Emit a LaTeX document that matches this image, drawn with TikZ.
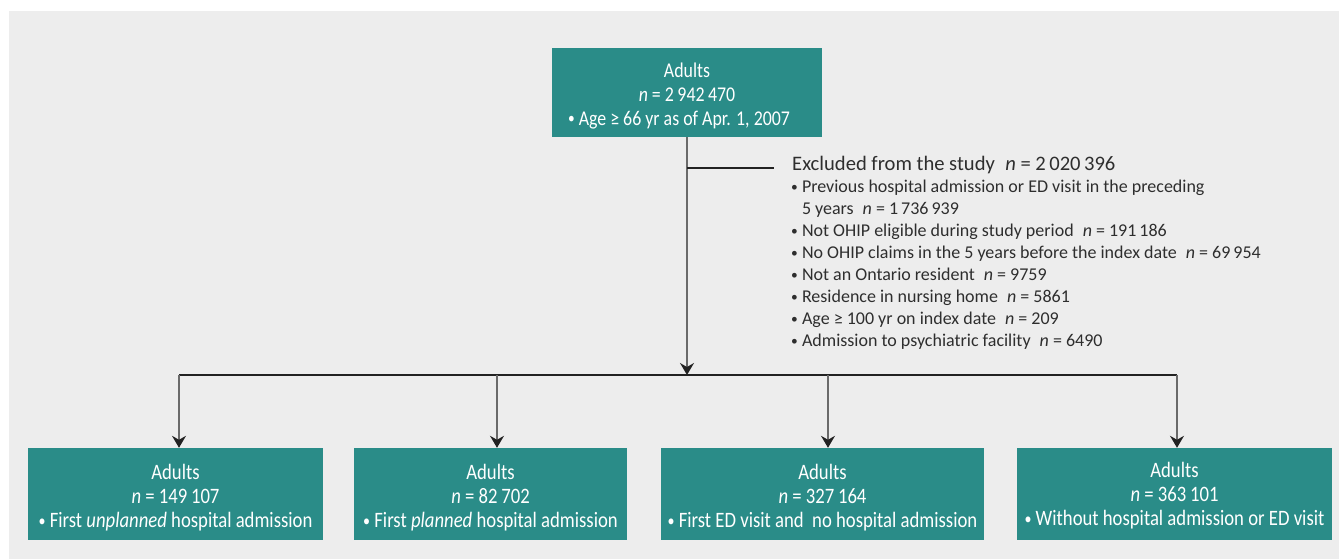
\documentclass[tikz,border=0pt]{standalone}
\usepackage{fontspec}
\usepackage{graphicx}
\setmainfont{Carlito}
\newfontfamily\boxfont[FakeStretch=0.85]{Carlito}
\usetikzlibrary{arrows.meta}
\definecolor{tealbox}{HTML}{2A8C88}
\definecolor{bgc}{HTML}{EDEDED}
\definecolor{vlinec}{HTML}{6A6A6A}
\definecolor{hlinec}{HTML}{222222}
\newcommand{\bul}{\raisebox{0.12ex}{\scalebox{0.75}{\textbullet}}}
\tikzset{
  tbox/.style={fill=tealbox, text=white, align=center, inner sep=0pt,
    font=\boxfont\fontsize{22}{24}\selectfont},
  arr/.style={draw=vlinec, line width=1.5pt,
    -{Stealth[length=12pt, width=14pt, inset=4pt, color=hlinec]}},
  hl/.style={draw=hlinec, line width=2.2pt},
  vl/.style={draw=vlinec, line width=1.5pt}
}
\begin{document}
\begin{tikzpicture}[x=1pt,y=-1pt]
\useasboundingbox (0,0) rectangle (1339,559);
\fill[bgc] (9,11) rectangle (1339,559);

\node[tbox, minimum width=270pt, minimum height=89pt, font=\boxfont\fontsize{21}{24}\selectfont] (top) at (687,92.5)
  {\rule{0pt}{21pt}Adults\\ \textit{n} = 2\,942\,470\\ \bul\ Age ≥ 66 yr as of Apr. 1, 2007\hspace*{16pt}};

\node[tbox, minimum width=295pt, minimum height=92pt] (b1) at (175.5,494)
  {\rule{0pt}{23pt}Adults\\ \textit{n} = 149\,107\\ \bul\ First \textit{unplanned} hospital admission};
\node[tbox, minimum width=273pt, minimum height=92pt] (b2) at (490.5,494)
  {\rule{0pt}{23pt}Adults\\ \textit{n} = 82\,702\\ \bul\ First \textit{planned} hospital admission};
\node[tbox, minimum width=323pt, minimum height=92pt] (b3) at (822.5,494)
  {\rule{0pt}{23pt}Adults\\ \textit{n} = 327\,164\\ \bul\ First ED visit and\ \ no hospital admission};
\node[tbox, minimum width=315pt, minimum height=92pt] (b4) at (1174.5,494)
  {\rule{0pt}{19.5pt}Adults\\ \textit{n} = 363\,101\\ \bul\ Without hospital admission or ED visit};

\node[anchor=base west, inner sep=0pt, text=black!82, font=\fontsize{20.6}{22}\selectfont] (exc) at (792,171)
  {Excluded from the study\enspace \textit{n} = 2\,020\,396};
\node[anchor=north west, inner sep=0pt, align=left, text=black!82, font=\fontsize{18}{22}\selectfont] (excl) at (791,180)
  {\bul\ Previous hospital admission or ED visit in the preceding\\
   \hphantom{\bul\ }5 years\enspace \textit{n} = 1\,736\,939\\
   \bul\ Not OHIP eligible during study period\enspace \textit{n} = 191\,186\\
   \bul\ No OHIP claims in the 5 years before the index date\enspace \textit{n} = 69\,954\\
   \bul\ Not an Ontario resident\enspace \textit{n} = 9759\\
   \bul\ Residence in nursing home\enspace \textit{n} = 5861\\
   \bul\ Age ≥ 100 yr on index date\enspace \textit{n} = 209\\
   \bul\ Admission to psychiatric facility\enspace \textit{n} = 6490};

\coordinate (mid) at (687,375);
\coordinate (br) at (687,168);
\coordinate (brend) at (774,168);
\coordinate (hl1) at (179,375);
\coordinate (hl4) at (1177,375);
\coordinate (a2) at (497,375);
\coordinate (a3) at (828,375);

\draw[arr] (top.south) -- (mid);
\draw[hl] (br) -- (brend);
\draw[hl] (hl1) -- (hl4);
\draw[arr] (hl1) -- (hl1 |- b1.north);
\draw[arr] (a2) -- (a2 |- b2.north);
\draw[arr] (a3) -- (a3 |- b3.north);
\draw[arr] (hl4) -- (hl4 |- b4.north);
\end{tikzpicture}
\end{document}
